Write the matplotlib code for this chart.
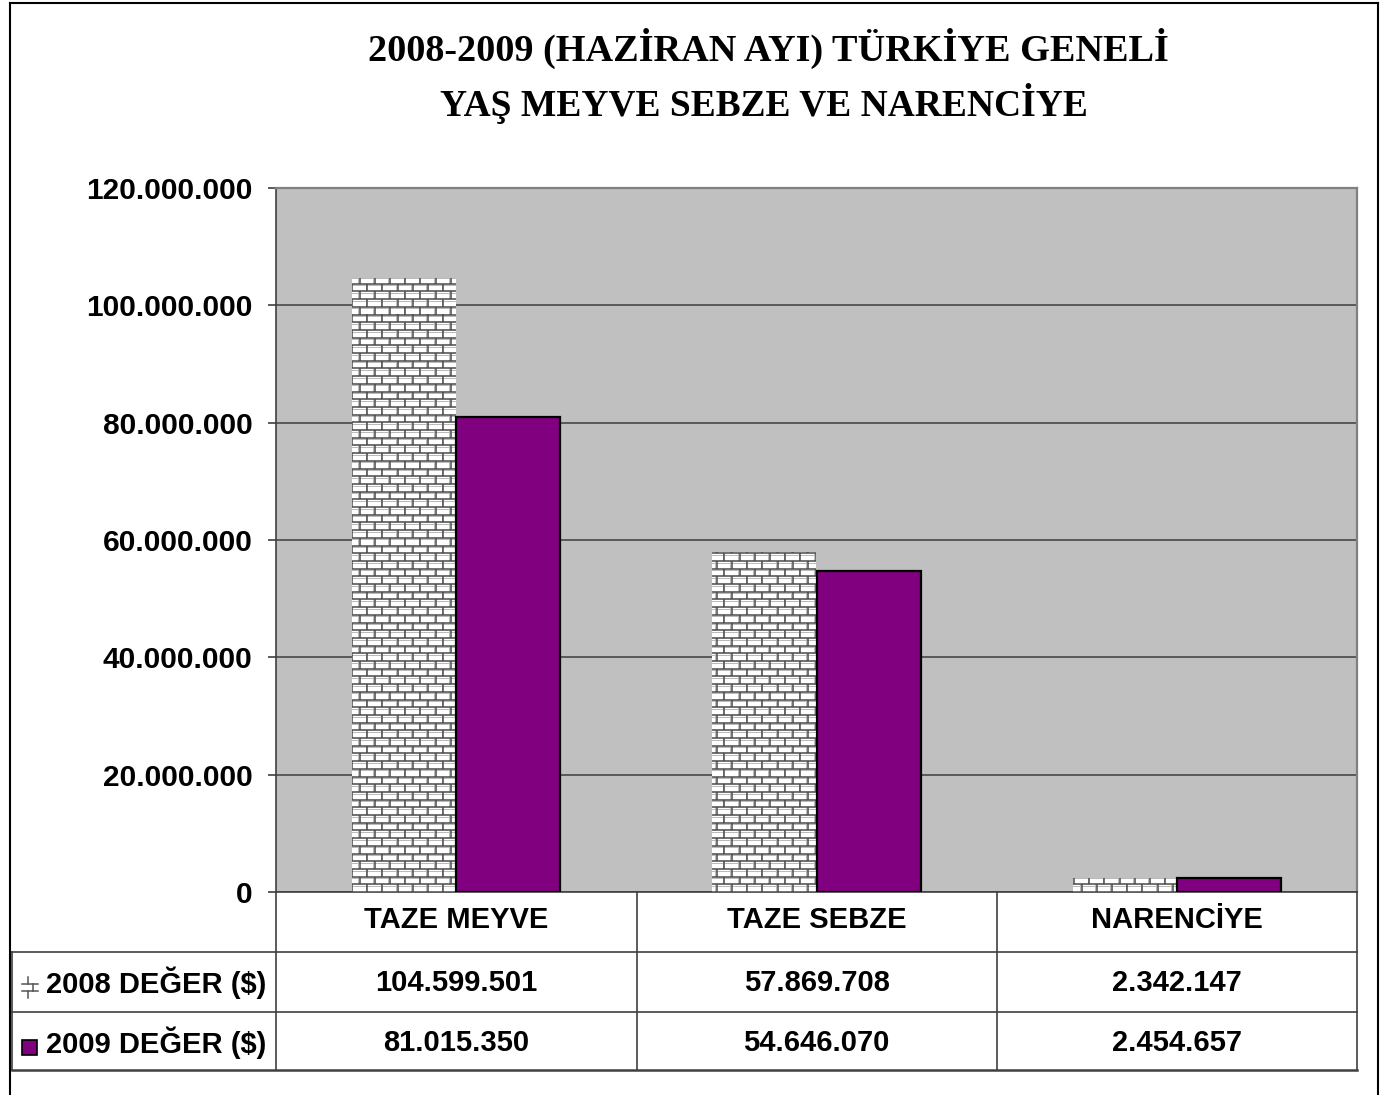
import matplotlib
matplotlib.use("Agg")
import matplotlib.pyplot as plt
from matplotlib.collections import LineCollection
from matplotlib.lines import Line2D
from matplotlib.patches import Rectangle
from matplotlib.ticker import FuncFormatter, MultipleLocator
from matplotlib.transforms import blended_transform_factory
import numpy as np

categories = ["TAZE MEYVE", "TAZE SEBZE", "NARENCİYE"]
series_names = ["2008 DEĞER ($)", "2009 DEĞER ($)"]
values_2008 = [104599501, 57869708, 2342147]
values_2009 = [81015350, 54646070, 2454657]
title_lines = ["2008-2009 (HAZİRAN AYI) TÜRKİYE GENELİ", "YAŞ MEYVE SEBZE VE NARENCİYE"]

W_PX, H_PX = 1389, 1095
PURPLE = "#800080"
PLOT_BG = "#c0c0c0"
LINE_GRAY = "#404040"
sans = "Liberation Sans"
serif = "Liberation Serif"
FS = 21


def fx(x):
    return x / W_PX


def fy(y):
    return 1 - y / H_PX


def dots(v):
    return f"{int(v):,}".replace(",", ".")


fig = plt.figure(figsize=(W_PX / 100, H_PX / 100), dpi=100)

# plot area in pixels: x 276..1357, y 188..892
ax_left, ax_right, ax_top, ax_bottom = 276, 1357, 188, 892
ax = fig.add_axes([fx(ax_left), fy(ax_bottom), fx(ax_right - ax_left), (ax_bottom - ax_top) / H_PX])
ax.set_facecolor(PLOT_BG)
ax.set_xlim(0, len(categories))
ax.set_ylim(0, 120_000_000)
ax.yaxis.set_major_locator(MultipleLocator(20_000_000))
ax.yaxis.set_major_formatter(FuncFormatter(lambda v, p: dots(v)))
ax.set_xticks([])
ax.tick_params(axis="y", length=6, width=1.2, color=LINE_GRAY, pad=11, labelsize=21.5)
for lab in ax.get_yticklabels():
    lab.set_fontfamily(sans)
    lab.set_fontweight("bold")
ax.grid(axis="y", color="#595959", linewidth=1.4)
ax.set_axisbelow(True)
ax.spines["top"].set_color("#808080")
ax.spines["right"].set_color("#808080")
ax.spines["top"].set_linewidth(1.6)
ax.spines["right"].set_linewidth(1.6)
ax.spines["left"].set_color(LINE_GRAY)
ax.spines["bottom"].set_color(LINE_GRAY)
ax.spines["left"].set_linewidth(1.2)
ax.spines["bottom"].set_linewidth(1.2)

x = np.arange(len(categories)) + 0.5
bar_w = 104 / ((ax_right - ax_left) / len(categories))
bars08 = ax.bar(x - bar_w / 2, values_2008, width=bar_w, color="white", edgecolor="none", zorder=3)
bars09 = ax.bar(x + bar_w / 2, values_2009, width=bar_w, color=PURPLE, edgecolor="black",
                linewidth=1.6, zorder=4)

# brick texture for 2008 bars (mortar lines clipped to each bar)
axw, axh = ax_right - ax_left, ax_bottom - ax_top
row_h, brick_w = 7.7, 15.2
dark_segs, light_segs = [], []
n_rows = int(axh / row_h) + 1
n_cols = int(axw / brick_w) + 2
for i in range(n_rows):
    y0 = i * row_h
    y1 = y0 + row_h
    dark_segs.append([(0, y0 / axh), (1, y0 / axh)])
    light_segs.append([(0, (y0 - 1.6) / axh), (1, (y0 - 1.6) / axh)])
    off = 0.5 * brick_w * (i % 2)
    for k in range(n_cols):
        xx = k * brick_w + off
        dark_segs.append([(xx / axw, y0 / axh), (xx / axw, y1 / axh)])
        light_segs.append([((xx - 1.6) / axw, y0 / axh), ((xx - 1.6) / axw, y1 / axh)])

for b in bars08:
    for segs, col, lw in [(light_segs, "#b8b8b8", 0.7), (dark_segs, "#4a4a4a", 1.1)]:
        lc = LineCollection(segs, colors=col, linewidths=lw, transform=ax.transAxes, zorder=3.5)
        ax.add_collection(lc)
        lc.set_clip_path(b)

# title
fig.text(fx(768), fy(48), title_lines[0], ha="center", va="center", fontsize=27.5,
         fontweight="bold", family=serif)
fig.text(fx(764), fy(103), title_lines[1], ha="center", va="center", fontsize=27,
         fontweight="bold", family=serif)

# data table below the plot
tr = blended_transform_factory(ax.transData, fig.transFigure)
row_y = [920, 983, 1043]
for i, cat in enumerate(categories):
    fig.text(x[i], fy(row_y[0]), cat, transform=tr, ha="center", va="center",
             fontsize=FS, fontweight="bold", family=sans)
    fig.text(x[i], fy(row_y[1]), dots(values_2008[i]), transform=tr, ha="center", va="center",
             fontsize=FS, fontweight="bold", family=sans)
    fig.text(x[i], fy(row_y[2]), dots(values_2009[i]), transform=tr, ha="center", va="center",
             fontsize=FS, fontweight="bold", family=sans)

fig.text(fx(46), fy(row_y[1]), series_names[0], ha="left", va="center",
         fontsize=FS, fontweight="bold", family=sans)
fig.text(fx(46), fy(row_y[2]), series_names[1], ha="left", va="center",
         fontsize=FS, fontweight="bold", family=sans)


def fig_line(xs, ys, color=LINE_GRAY, lw=1.2):
    fig.add_artist(Line2D([fx(v) for v in xs], [fy(v) for v in ys], color=color, linewidth=lw))


# table grid
for xv in [276, 637, 997, 1357]:
    fig_line([xv, xv], [892, 1070])
fig_line([12, 12], [952, 1070])
for yv in [952, 1012]:
    fig_line([12, 1357], [yv, yv])
fig_line([12, 1357], [1070, 1070], lw=1.8)

# legend keys
fig.add_artist(Rectangle((fx(22), fy(1055)), fx(15), 15 / H_PX, facecolor=PURPLE,
                         edgecolor="black", linewidth=1.2))
key_col = "#555555"
fig_line([22, 38], [984, 984], key_col, 1.1)
fig_line([22, 38], [991, 991], key_col, 1.1)
fig_line([28, 28], [977, 984], key_col, 1.1)
fig_line([33, 33], [984, 991], key_col, 1.1)
fig_line([28, 28], [991, 998], key_col, 1.1)

# outer frame
fig_line([10, 10], [3, 1100], "black", 1.5)
fig_line([10, 1378], [3, 3], "black", 1.5)
fig_line([1378, 1378], [3, 1100], "black", 1.5)

fig.savefig("out.png", dpi=100)
